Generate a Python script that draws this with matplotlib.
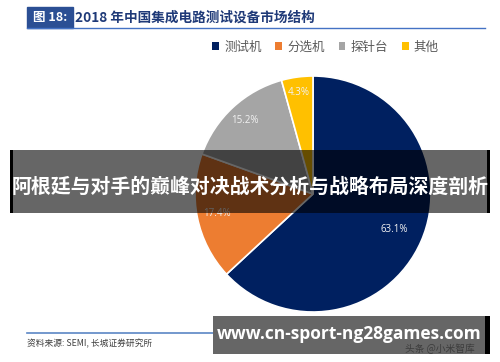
import matplotlib.pyplot as plt
from matplotlib.patches import Rectangle
import numpy as np

plt.rcParams['font.family'] = ['Noto Sans CJK SC', 'DejaVu Sans']

# -------------------------------------------------------
# Données
# -------------------------------------------------------
categories = ["测试机", "分选机", "探针台", "其他"]
shares = [63.1, 17.4, 15.2, 4.3]
colors = ["#002060", "#ED7D31", "#A5A5A5", "#FFC000"]

title = "2018 年中国集成电路测试设备市场结构"
source = "资料来源: SEMI, 长城证券研究所"
banner = "阿根廷与对手的巅峰对决战术分析与战略布局深度剖析"
site = "www.cn-sport-ng28games.com"

W, H = 500, 362

fig = plt.figure(figsize=(W / 100, H / 100), dpi=100)
ax = fig.add_axes([0, 0, 1, 1])


def py(y):
    # pixel y (from top) -> data y
    return H - y


# -------------------------------------------------------
# Camembert
# -------------------------------------------------------
cx, cy, r = 313, py(194), 118
wedges, _ = ax.pie(shares, colors=colors, startangle=90, counterclock=False,
                   center=(cx, cy), radius=r,
                   wedgeprops=dict(edgecolor="white", linewidth=1.2))

label_dist = [0.75, 0.83, 0.85, 0.87]
for w, v, d in zip(wedges, shares, label_dist):
    a = np.deg2rad((w.theta1 + w.theta2) / 2)
    ax.text(cx + d * r * np.cos(a), cy + d * r * np.sin(a), f"{v}%",
            ha="center", va="center", fontsize=7, color="#F2F2F2",
            family=["Open Sans", "DejaVu Sans"])

ax.set_xlim(0, W)
ax.set_ylim(0, H)
ax.set_aspect("auto")
ax.axis("off")

# -------------------------------------------------------
# Légende
# -------------------------------------------------------
leg = ax.legend(wedges, categories, ncol=4, loc="center left",
                bbox_to_anchor=(201 / W, 1 - 47 / H), frameon=False,
                handlelength=0.55, handleheight=0.55, handletextpad=0.4,
                columnspacing=1.1, fontsize=9, labelcolor="#595959")
for h in leg.legend_handles:
    h.set_edgecolor("none")

# -------------------------------------------------------
# Titre
# -------------------------------------------------------
ax.add_patch(Rectangle((27, py(28)), 46, 21, color="#2B4F94", zorder=3))
ax.text(50, py(18), "图 18:", ha="center", va="center", color="white",
        fontsize=9, fontweight="bold", zorder=4)
ax.text(75, py(18), title, ha="left", va="center", color="#1F3A78",
        fontsize=9.8, fontweight="bold", zorder=4)
ax.plot([27, 485], [py(28), py(28)], color="#4472C4", lw=1, zorder=3)

# -------------------------------------------------------
# Source
# -------------------------------------------------------
ax.plot([27, 215], [py(333), py(333)], color="#5B86C5", lw=1.2, zorder=3)
ax.text(27, py(344), source, ha="left", va="center", color="#404040",
        fontsize=6.3, style="italic", zorder=4)

# -------------------------------------------------------
# Bandeau
# -------------------------------------------------------
ax.add_patch(Rectangle((10, py(213)), 480, 63, color="black", alpha=0.6,
                       lw=0, zorder=5))
ax.add_patch(Rectangle((10, py(213)), 3, 63, color="black", lw=0, zorder=5))
ax.add_patch(Rectangle((487, py(213)), 3, 63, color="black", lw=0, zorder=5))
ax.text(250, py(186), banner, ha="center", va="center", color="white",
        fontsize=14.3, fontweight="bold", zorder=6)

# -------------------------------------------------------
# Bas de page
# -------------------------------------------------------
ax.add_patch(Rectangle((213, py(354)), 272, 38, color="#666666", lw=0,
                       zorder=5))
ax.add_patch(Rectangle((485, py(354)), 5, 38, color="black", lw=0, zorder=5))
ax.text(440, py(349), "头条 @小米智库", ha="center", va="center",
        color="#3C3C3C", fontsize=7, zorder=6)
ax.text(349, py(334), site, ha="center", va="center", color="white",
        fontsize=12.5, fontweight="bold", family=["Open Sans", "DejaVu Sans"],
        zorder=7)

plt.savefig("out.png", dpi=100)
